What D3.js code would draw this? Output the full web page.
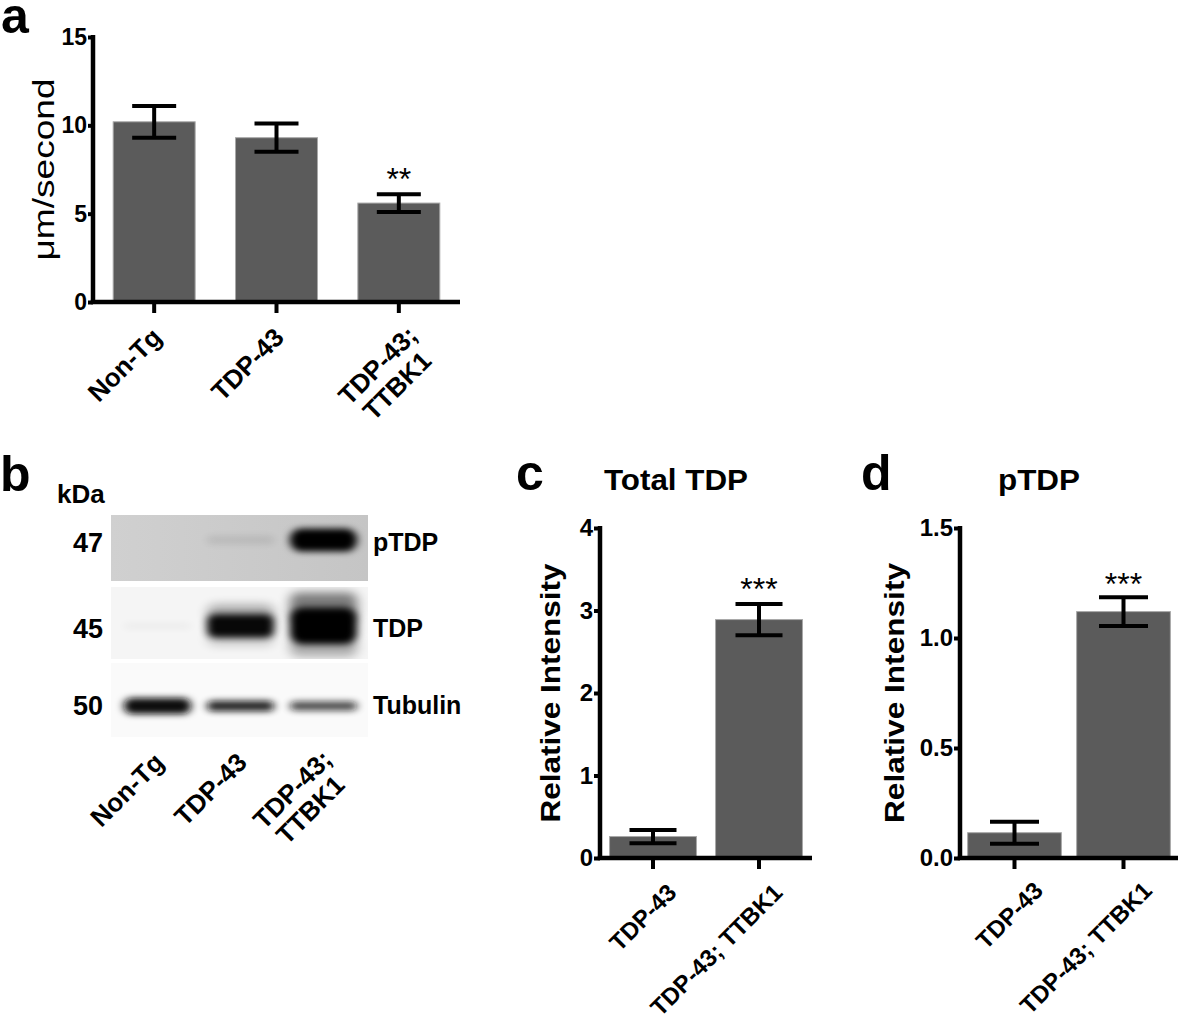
<!DOCTYPE html>
<html><head><meta charset="utf-8">
<script src="https://cdn.jsdelivr.net/npm/d3@7"></script>
<style>
body{margin:0;background:#fff}
svg{display:block}
text{font-family:"Liberation Sans",Arial,Helvetica,sans-serif}
</style>
</head><body>
<svg id="fig" width="1181" height="1022"></svg>
<script>
// ---------------- DATA ----------------
// Panel a: axonal transport speed
const aCategories = ["Non-Tg", "TDP-43", "TDP-43;\nTTBK1"];
const aMeans = [10.2, 9.3, 5.6];
const aErrors = [0.9, 0.8, 0.5];
const aTicks = [0, 5, 10, 15];
const aSig = ["", "", "**"];

// Panel b: western blot (relative band intensities per lane)
const bLanes = ["Non-Tg", "TDP-43", "TDP-43;\nTTBK1"];
const bMarkers = ["47", "45", "50"];
const bProteins = ["pTDP", "TDP", "Tubulin"];
const bPTDP = [0.0, 0.08, 1.0];
const bTDP = [0.02, 0.6, 1.0];
const bTubulin = [1.0, 0.55, 0.4];

// Panel c: Total TDP
const cCategories = ["TDP-43", "TDP-43; TTBK1"];
const cMeans = [0.26, 2.89];
const cErrors = [0.08, 0.19];
const cTicks = [0, 1, 2, 3, 4];
const cSig = ["", "***"];

// Panel d: pTDP
const dCategories = ["TDP-43", "TDP-43; TTBK1"];
const dMeans = [0.115, 1.12];
const dErrors = [0.05, 0.065];
const dTicks = [0, 0.5, 1.0, 1.5];
const dSig = ["", "***"];

// ---------------- DRAW ----------------
const svg = d3.select("#fig");
svg.append("rect").attr("width",1181).attr("height",1022).attr("fill","#fff");

const BAR_FILL = "#5b5b5b", BAR_EDGE = "#a8a8a8";

function panelLetter(t, x, y){
  svg.append("text").attr("x",x).attr("y",y).attr("font-size",50).attr("font-weight","bold").text(t);
}

function rotLabels(g, cats, cxf, y0, L){
  cats.forEach(c=>{
    const lines = c.split("\n");
    const multi = lines.length>1;
    const px = cxf(c) + L.dx + (multi?L.mdx:0);
    const py = y0 + L.dy + (multi?L.mdy:0);
    const t = g.append("text")
      .attr("transform",`translate(${px},${py}) rotate(-45)`)
      .attr("text-anchor","end").attr("font-size",L.fs).attr("font-weight","bold");
    lines.forEach((l,i)=>{
      t.append("tspan").attr("x", i? -L.shift : 0).attr("dy", i? L.lh : 0).text(l);
    });
  });
}

function barPanel(o){
  const g = svg.append("g");
  const x = d3.scaleBand().domain(o.cats).range([o.x0, o.x1]).paddingInner(o.pad).paddingOuter(o.pad/2);
  const y = d3.scaleLinear().domain(o.domain).range([o.y0, o.y1]);

  g.selectAll("rect.bar").data(o.means).join("rect")
    .attr("x",(d,i)=>x(o.cats[i])).attr("y",d=>y(d))
    .attr("width",x.bandwidth()).attr("height",d=>y(0)-y(d))
    .attr("fill",BAR_FILL).attr("stroke",BAR_EDGE).attr("stroke-width",1);

  // error bars
  const eb = g.selectAll("g.eb").data(o.means).join("g").attr("class","eb")
    .attr("stroke","#000").attr("stroke-width",4);
  eb.append("line")
    .attr("x1",(d,i)=>x(o.cats[i])+x.bandwidth()/2).attr("x2",(d,i)=>x(o.cats[i])+x.bandwidth()/2)
    .attr("y1",(d,i)=>y(d-o.errs[i])).attr("y2",(d,i)=>y(d+o.errs[i]));
  [1,-1].forEach(s=>{
    eb.append("line")
      .attr("x1",(d,i)=>x(o.cats[i])+x.bandwidth()/2-o.cap/2).attr("x2",(d,i)=>x(o.cats[i])+x.bandwidth()/2+o.cap/2)
      .attr("y1",(d,i)=>y(d+s*o.errs[i])).attr("y2",(d,i)=>y(d+s*o.errs[i]));
  });

  // significance
  g.selectAll("text.sig").data(o.means).join("text")
    .attr("x",(d,i)=>x(o.cats[i])+x.bandwidth()/2)
    .attr("y",(d,i)=>y(d+o.errs[i]) + o.sigOff)
    .attr("text-anchor","middle").attr("font-size",32)
    .text((d,i)=>o.sig[i]);

  // y axis
  const ya = g.append("g").attr("transform",`translate(${o.x0},0)`)
    .call(d3.axisLeft(y).tickValues(o.ticks).tickFormat(o.fmt).tickSize(o.tickLen).tickSizeOuter(0).tickPadding(1));
  ya.select(".domain").remove();
  ya.selectAll(".tick line").attr("stroke-width",4);
  ya.selectAll(".tick text").attr("font-size",o.tfs).attr("font-weight","bold")
    .attr("font-family","'Liberation Sans',Arial,sans-serif").attr("fill","#000");
  g.append("line").attr("x1",o.x0).attr("x2",o.x0).attr("y1",o.y1-2).attr("y2",o.y0)
    .attr("stroke","#000").attr("stroke-width",4.5);

  // x axis
  const xa = g.append("g").attr("transform",`translate(0,${o.y0})`)
    .call(d3.axisBottom(x).tickSize(11).tickSizeOuter(0).tickFormat(""));
  xa.select(".domain").remove();
  xa.selectAll(".tick line").attr("stroke-width",4);
  g.append("line").attr("x1",o.x0-2.25).attr("x2",o.x1).attr("y1",o.y0).attr("y2",o.y0)
    .attr("stroke","#000").attr("stroke-width",4.5);

  // rotated category labels
  rotLabels(g, o.cats, d=>x(d)+x.bandwidth()/2, o.y0, o.lab);

  // y title
  g.append("text")
    .attr("transform",`translate(${o.yt.x},${(o.y0+o.y1)/2 + o.yt.dyc}) rotate(-90)`)
    .attr("text-anchor","middle").attr("font-size",o.yt.fs)
    .attr("font-weight",o.yt.bold?"bold":"normal")
    .attr("textLength",o.yt.len).attr("lengthAdjust","spacingAndGlyphs")
    .text(o.yt.text);

  if (o.title){
    g.append("text").attr("x",o.title.x).attr("y",o.title.y).attr("text-anchor","middle")
      .attr("font-size",30).attr("font-weight","bold")
      .attr("textLength",o.title.len).attr("lengthAdjust","spacingAndGlyphs")
      .text(o.title.text);
  }
  return {x,y};
}

// ---- Panel a ----
panelLetter("a", 1, 33);
barPanel({
  cats:aCategories, means:aMeans, errs:aErrors, ticks:aTicks, sig:aSig, fmt:d3.format("d"), tfs:23,
  x0:93, x1:460, y0:302, y1:37, domain:[0,15], pad:0.33, cap:44, tickLen:5, sigOff:-4,
  lab:{fs:26, dx:9, dy:37, mdx:11, mdy:-2, lh:28, shift:8},
  yt:{text:"μm/second", x:54, dyc:0, fs:29, bold:false, len:182}
});

// ---- Panel c ----
panelLetter("c", 516, 490);
barPanel({
  cats:cCategories, means:cMeans, errs:cErrors, ticks:cTicks, sig:cSig, fmt:d3.format("d"), tfs:24,
  x0:600, x1:812, y0:858, y1:528, domain:[0,4], pad:0.18, cap:47, tickLen:6, sigOff:-4,
  lab:{fs:24, dx:25, dy:36, mdx:0, mdy:0, lh:28, shift:0},
  yt:{text:"Relative Intensity", x:560, dyc:0, fs:28, bold:true, len:259},
  title:{text:"Total TDP", x:676, y:490, len:144}
});

// ---- Panel d ----
panelLetter("d", 861, 490);
barPanel({
  cats:dCategories, means:dMeans, errs:dErrors, ticks:dTicks, sig:dSig, fmt:d3.format(".1f"), tfs:24,
  x0:960, x1:1178, y0:858, y1:528, domain:[0,1.5], pad:0.14, cap:49, tickLen:6, sigOff:-2,
  lab:{fs:24, dx:30, dy:34, mdx:0, mdy:0, lh:28, shift:0},
  yt:{text:"Relative Intensity", x:904, dyc:0, fs:28, bold:true, len:260},
  title:{text:"pTDP", x:1039, y:490, len:82}
});

// ---- Panel b (western blot) ----
panelLetter("b", 0, 491);
(function(){
  const g = svg.append("g");
  const defs = svg.append("defs");
  const f = defs.append("filter").attr("id","blur").attr("x","-50%").attr("y","-100%").attr("width","200%").attr("height","300%");
  f.append("feGaussianBlur").attr("stdDeviation","4 3");
  const fs = defs.append("filter").attr("id","blurSoft").attr("x","-50%").attr("y","-100%").attr("width","200%").attr("height","300%");
  fs.append("feGaussianBlur").attr("stdDeviation","6 5");
  const gr = defs.append("linearGradient").attr("id","pbg").attr("x1","0").attr("x2","1").attr("y1","0").attr("y2","0");
  gr.append("stop").attr("offset","0").attr("stop-color","#d0d0d0");
  gr.append("stop").attr("offset","1").attr("stop-color","#c5c5c5");

  const lane = d3.scaleBand().domain(bLanes).range([116,365]).paddingInner(0.1).paddingOuter(0.05);
  const cx = l => lane(l)+lane.bandwidth()/2;
  const panels = [
    {prot:bProteins[0], mk:bMarkers[0], y0:515, y1:581, bg:"url(#pbg)", vals:bPTDP, cy:540, lab:542, hBase:8, hK:15, op:v=>v},
    {prot:bProteins[1], mk:bMarkers[1], y0:587, y1:659, bg:"#f5f5f5", vals:bTDP, cy:626, lab:628, hBase:6, hK:55, op:v=>Math.min(1,v*1.6)},
    {prot:bProteins[2], mk:bMarkers[2], y0:663, y1:737, bg:"#fafafa", vals:bTubulin, cy:706, lab:705, hBase:4, hK:12, op:v=>Math.min(1,0.35+v)}
  ];
  panels.forEach((p,pi)=>{
    const cid = "clip"+pi;
    defs.append("clipPath").attr("id",cid).append("rect").attr("x",111).attr("y",p.y0).attr("width",257).attr("height",p.y1-p.y0);
    g.append("rect").attr("x",111).attr("y",p.y0).attr("width",257).attr("height",p.y1-p.y0).attr("fill",p.bg);
    const bands = g.append("g").attr("clip-path",`url(#${cid})`);
    p.vals.forEach((v,i)=>{
      const h = p.hBase + p.hK*v;
      const w = lane.bandwidth()*0.9;
      if (pi===1 && v>0.1){
        bands.append("rect").attr("x",cx(bLanes[i])-w/2).attr("y",p.cy-h*0.55).attr("width",w).attr("height",h*0.45)
          .attr("rx",8).attr("fill","#000").attr("opacity",0.5*v).attr("filter","url(#blurSoft)");
        bands.append("rect").attr("x",cx(bLanes[i])-w/2).attr("y",p.cy+h*0.15).attr("width",w).attr("height",h*0.35)
          .attr("rx",8).attr("fill","#000").attr("opacity",0.3*v).attr("filter","url(#blurSoft)");
        bands.append("rect").attr("x",cx(bLanes[i])-w/2).attr("y",p.cy-h*0.3).attr("width",w).attr("height",h*0.6)
          .attr("rx",h*0.2).attr("fill","#000").attr("opacity",p.op(v)).attr("filter","url(#blur)");
      } else if (v>0.01){
        bands.append("rect").attr("x",cx(bLanes[i])-w/2).attr("y",p.cy-h/2).attr("width",w).attr("height",h)
          .attr("rx",h/2).attr("fill",pi===0?"#000":"#111").attr("opacity",p.op(v)).attr("filter","url(#blur)");
      }
    });
    g.append("text").attr("x",103).attr("y",p.lab).attr("dy","0.36em").attr("text-anchor","end")
      .attr("font-size",27).attr("font-weight","bold").text(p.mk);
    g.append("text").attr("x",373).attr("y",p.lab).attr("dy","0.36em")
      .attr("font-size",25).attr("font-weight","bold").text(p.prot);
  });
  g.append("text").attr("x",57).attr("y",503).attr("font-size",26).attr("font-weight","bold").text("kDa");
  rotLabels(g, bLanes, cx, 737, {fs:26, dx:8, dy:27, mdx:2, mdy:-3, lh:27, shift:9});
})();
</script>
</body></html>
